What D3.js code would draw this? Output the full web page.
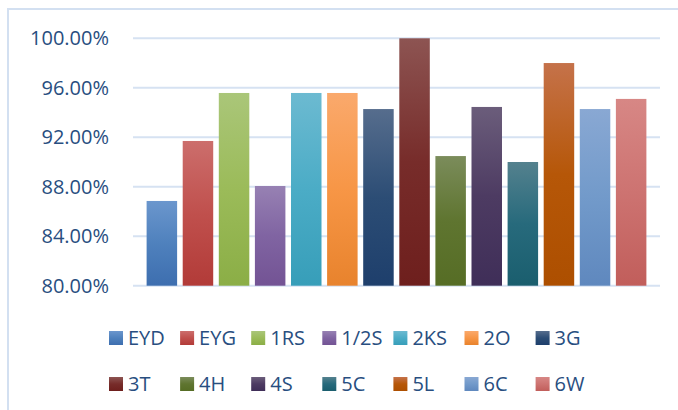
<!DOCTYPE html>
<html>
<head>
<meta charset="utf-8">
<script src="https://cdn.jsdelivr.net/npm/d3@7"></script>
<style>
  html, body { margin: 0; padding: 0; background: #fff; }
  svg { display: block; }
</style>
</head>
<body>
<svg id="chart" width="678" height="410"></svg>
<script>
// ---- data ----
const categories = ["EYD", "EYG", "1RS", "1/2S", "2KS", "2O", "3G", "3T", "4H", "4S", "5C", "5L", "6C", "6W"];
const values = [86.85, 91.70, 95.58, 88.06, 95.58, 95.58, 94.28, 100.00, 90.48, 94.45, 90.00, 98.00, 94.28, 95.10];
const yTicks = [80, 84, 88, 92, 96, 100];

// ---- palette (top, middle, bottom of gradient) ----
const palette = [
  ["#6B96CD", "#4F81BD", "#3D6EAF"],
  ["#CC6E6C", "#C0504D", "#B23B38"],
  ["#AAC679", "#9BBB59", "#8BAE46"],
  ["#9781B3", "#8064A2", "#735394"],
  ["#6CBAD1", "#4BACC6", "#379EB9"],
  ["#FAA96C", "#F79646", "#E8832D"],
  ["#566D8D", "#2C4D75", "#1E3F6C"],
  ["#8D5452", "#772C2A", "#6E1F1D"],
  ["#7B8C5B", "#5F7530", "#566D25"],
  ["#6B5D7B", "#4D3B62", "#3F2E58"],
  ["#54818E", "#276A7C", "#1A5E6E"],
  ["#C5724A", "#B65708", "#AD4F00"],
  ["#89A8D3", "#729ACA", "#5F88BE"],
  ["#D78785", "#CD7371", "#C15E5B"]
];

const svg = d3.select("#chart");
const font = "'Open Sans', 'Liberation Sans', sans-serif";
const textColor = "#284E80";

// frame
svg.append("path")
  .attr("d", "M8,410 L8,9 L678,9")
  .attr("fill", "none")
  .attr("stroke", "#D3E0F1")
  .attr("stroke-width", 2);

const x0 = 133, x1 = 660;
const y = d3.scaleLinear().domain([80, 100]).range([285.7, 38.3]);
const x = d3.scaleBand().domain(categories).range([x0, x1])
  .paddingInner(0.155).paddingOuter(0.377);

// gradients
const defs = svg.append("defs");
palette.forEach((c, i) => {
  const g = defs.append("linearGradient").attr("id", "g" + i)
    .attr("x1", 0).attr("y1", 0).attr("x2", 0).attr("y2", 1);
  g.append("stop").attr("offset", "0%").attr("stop-color", c[0]);
  g.append("stop").attr("offset", "50%").attr("stop-color", c[1]);
  g.append("stop").attr("offset", "100%").attr("stop-color", c[2]);
});

// gridlines
svg.append("g").selectAll("line").data(yTicks).join("line")
  .attr("x1", x0).attr("x2", x1)
  .attr("y1", d => y(d)).attr("y2", d => y(d))
  .attr("stroke", "#D6E2F2").attr("stroke-width", 2);

// y labels
svg.append("g").selectAll("text").data(yTicks).join("text")
  .attr("x", 109).attr("y", d => y(d))
  .attr("dy", "0.35em")
  .attr("text-anchor", "end")
  .attr("font-family", font).attr("font-size", 20)
  .attr("fill", textColor)
  .text(d => d.toFixed(2) + "%");

// bars
svg.append("g").selectAll("rect").data(categories).join("rect")
  .attr("x", d => x(d))
  .attr("width", x.bandwidth())
  .attr("y", (d, i) => y(values[i]))
  .attr("height", (d, i) => y(80) - y(values[i]))
  .attr("fill", (d, i) => `url(#g${i})`);

// legend
const legend = svg.append("g");
const items = legend.selectAll("g").data(categories).join("g")
  .attr("transform", (d, i) => `translate(${109 + (i % 7) * 71.1},${338 + Math.floor(i / 7) * 46})`);
items.append("rect")
  .attr("x", 0).attr("y", -7).attr("width", 14).attr("height", 14)
  .attr("fill", (d, i) => `url(#g${i})`);
items.append("text")
  .attr("x", 19).attr("y", 0).attr("dy", "0.36em")
  .attr("font-family", font).attr("font-size", 20)
  .attr("fill", textColor)
  .text(d => d);
</script>
</body>
</html>
